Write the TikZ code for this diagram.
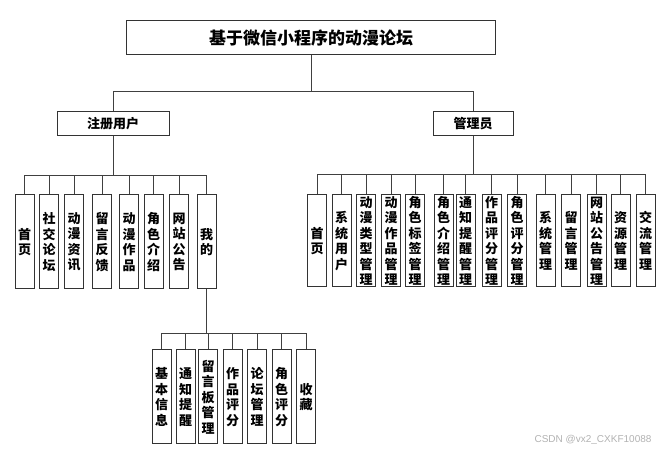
\documentclass[tikz,border=0pt]{standalone}
\usepackage{fontspec}
\setmainfont{Noto Sans CJK SC}
\newfontfamily\wmfont{Liberation Sans}
\usepackage{tikz}

\begin{document}
\begin{tikzpicture}[x=1pt,y=-1pt,
  head/.style={draw=black!80,line width=1pt,minimum width=369pt,minimum height=34pt,
    font=\fontsize{17}{20}\selectfont\bfseries,inner sep=0pt},
  role/.style={draw=black!80,line width=1pt,minimum height=24pt,
    font=\fontsize{13}{15}\selectfont\bfseries,inner sep=0pt},
  leaf/.style={draw=black!80,line width=1pt,minimum width=19pt,minimum height=94pt,
    font=\fontsize{13}{15.5}\selectfont\bfseries,align=center,inner sep=0pt},
  link/.style={draw=black!75,line width=0.9pt}]
  \useasboundingbox (0,0) rectangle (665,454);
  \node[head] (title) at (311,38) {基于微信小程序的动漫论坛};
  \node[role,minimum width=112pt] (user) at (113,124) {注册用户};
  \node[role,minimum width=80pt] (admin) at (473,124) {管理员};
  % registered user
  \node[leaf] (u1) at (24.5,242) {首\\页};
  \node[leaf] (u2) at (49,242) {社\\交\\论\\坛};
  \node[leaf] (u3) at (74,242) {动\\漫\\资\\讯};
  \node[leaf] (u4) at (102,242) {留\\言\\反\\馈};
  \node[leaf] (u5) at (129,242) {动\\漫\\作\\品};
  \node[leaf] (u6) at (153.5,242) {角\\色\\介\\绍};
  \node[leaf] (u7) at (179,242) {网\\站\\公\\告};
  \node[leaf] (u8) at (206.5,242) {我\\的};
  % mine
  \node[leaf] (m1) at (161.5,397) {基\\本\\信\\息};
  \node[leaf] (m2) at (185.5,397) {通\\知\\提\\醒};
  \node[leaf] (m3) at (208,397) {留\\言\\板\\管\\理};
  \node[leaf] (m4) at (232.5,397) {作\\品\\评\\分};
  \node[leaf] (m5) at (257,397) {论\\坛\\管\\理};
  \node[leaf] (m6) at (281.5,397) {角\\色\\评\\分};
  \node[leaf] (m7) at (306,397) {收\\藏};
  % admin
  \node[leaf,minimum height=92pt] (a1) at (317,241) {首\\页};
  \node[leaf,minimum height=92pt] (a2) at (341.5,241) {系\\统\\用\\户};
  \node[leaf,minimum height=92pt] (a3) at (366,241) {动\\漫\\类\\型\\管\\理};
  \node[leaf,minimum height=92pt] (a4) at (391,241) {动\\漫\\作\\品\\管\\理};
  \node[leaf,minimum height=92pt] (a5) at (415,241) {角\\色\\标\\签\\管\\理};
  \node[leaf,minimum height=92pt] (a6) at (443.5,241) {角\\色\\介\\绍\\管\\理};
  \node[leaf,minimum height=92pt] (a7) at (465.5,241) {通\\知\\提\\醒\\管\\理};
  \node[leaf,minimum height=92pt] (a8) at (491.5,241) {作\\品\\评\\分\\管\\理};
  \node[leaf,minimum height=92pt] (a9) at (517,241) {角\\色\\评\\分\\管\\理};
  \node[leaf,minimum height=92pt] (a10) at (545.5,241) {系\\统\\管\\理};
  \node[leaf,minimum height=92pt] (a11) at (571,241) {留\\言\\管\\理};
  \node[leaf,minimum height=92pt] (a12) at (596.5,241) {网\\站\\公\\告\\管\\理};
  \node[leaf,minimum height=92pt] (a13) at (620.5,241) {资\\源\\管\\理};
  \node[leaf,minimum height=92pt] (a14) at (645.5,241) {交\\流\\管\\理};
  \node[font=\wmfont\fontsize{10}{12}\selectfont,text=black!30,anchor=east] (mark) at (655,440) {CSDN @vx2\_CXKF10088};
  \coordinate (top) at (0,91);
  \coordinate (ubus) at (0,175);
  \coordinate (abus) at (0,174);
  \coordinate (mbus) at (0,333);
  \draw[link] (title.south) -- (title.south |- top) -| (user.north);
  \draw[link] (title.south |- top) -| (admin.north);
  \foreach \i in {1,...,8}
    \draw[link] (user.south) -- (user.south |- ubus) -| (u\i.north);
  \foreach \i in {1,...,14}
    \draw[link] (admin.south) -- (admin.south |- abus) -| (a\i.north);
  \foreach \i in {1,...,7}
    \draw[link] (u8.south) -- (u8.south |- mbus) -| (m\i.north);
\end{tikzpicture}
\end{document}
